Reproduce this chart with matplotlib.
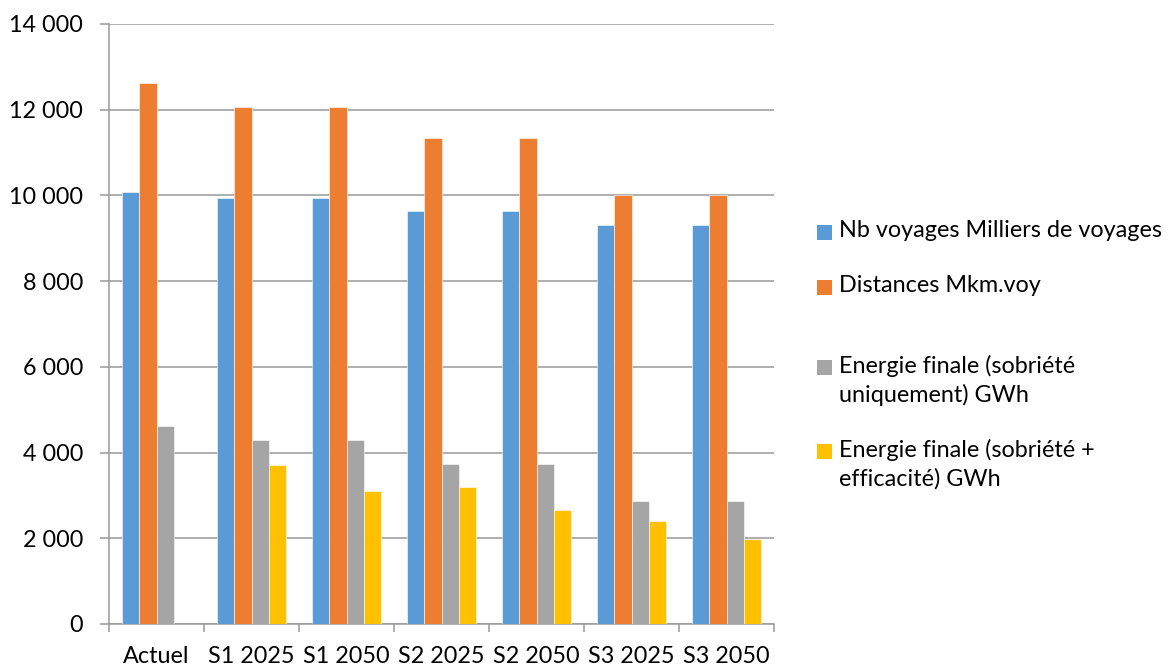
import matplotlib
matplotlib.use("Agg")
import matplotlib.pyplot as plt
import numpy as np
from matplotlib.patches import Rectangle
from matplotlib.ticker import FuncFormatter, FixedLocator

plt.rcParams['font.family'] = ['Lato', 'DejaVu Sans']

categories = ["Actuel", "S1 2025", "S1 2050", "S2 2025", "S2 2050", "S3 2025", "S3 2050"]
nb_voyages = [10090, 9930, 9930, 9640, 9640, 9320, 9320]
distances = [12620, 12070, 12070, 11340, 11340, 10000, 10000]
energie_sobriete = [4620, 4290, 4290, 3740, 3740, 2870, 2870]
energie_sob_eff = [0, 3720, 3100, 3200, 2670, 2400, 1990]

series_names = ["Nb voyages Milliers de voyages", "Distances Mkm.voy",
                "Energie finale (sobriété\nuniquement) GWh",
                "Energie finale (sobriété +\nefficacité) GWh"]
colors = ["#5B9BD5", "#ED7D31", "#A5A5A5", "#FFC000"]
series = [nb_voyages, distances, energie_sobriete, energie_sob_eff]

FS = 16.8
W, H = 1176, 670
fig = plt.figure(figsize=(W / 100, H / 100), dpi=100)
ax = fig.add_axes([109 / W, 1 - 624 / H, (774 - 109) / W, (624 - 24) / H])

x = np.arange(len(categories))
bw = 0.18
for i, (vals, c) in enumerate(zip(series, colors)):
    ax.bar(x + (i - 1.5) * bw, vals, width=bw, color=c, edgecolor="white",
           linewidth=0.4, zorder=3)

ax.set_xlim(-0.5, len(categories) - 0.5)
ax.set_ylim(0, 14000)
ax.set_yticks(np.arange(0, 14001, 2000))
ax.yaxis.set_major_formatter(FuncFormatter(lambda v, p: f"{int(v):,}".replace(",", " ")))
ax.grid(axis="y", color="#999999", linewidth=1.1, zorder=0)
ax.set_axisbelow(True)

for s in ["top", "right"]:
    ax.spines[s].set_visible(False)
ax.spines["left"].set_color("#999999")
ax.spines["bottom"].set_color("#999999")
ax.spines["left"].set_linewidth(1.1)
ax.spines["bottom"].set_linewidth(1.1)

ax.tick_params(axis="y", length=6.5, width=1.1, color="#999999", pad=12,
               labelsize=FS, labelcolor="black")
ax.set_xticks(x)
ax.set_xticklabels(categories)
ax.tick_params(axis="x", which="major", length=0, pad=16, labelsize=FS, labelcolor="black")
ax.xaxis.set_minor_locator(FixedLocator(np.arange(-0.5, len(categories), 1.0)))
ax.tick_params(axis="x", which="minor", length=6, width=1.1, color="#999999")

# legend (drawn manually to mimic Excel layout)
legend_y = [233, 288, 368, 452]
for name, c, yy in zip(series_names, colors, legend_y):
    fig.patches.append(Rectangle((817 / W, 1 - (yy + 7) / H), 15 / W, 15 / H,
                                 transform=fig.transFigure, facecolor=c,
                                 edgecolor="none"))
    fig.text(839 / W, 1 - (yy - 13) / H, name, fontsize=FS, va="top", ha="left",
             linespacing=1.4)

fig.savefig("out.png", dpi=100, facecolor="white")
